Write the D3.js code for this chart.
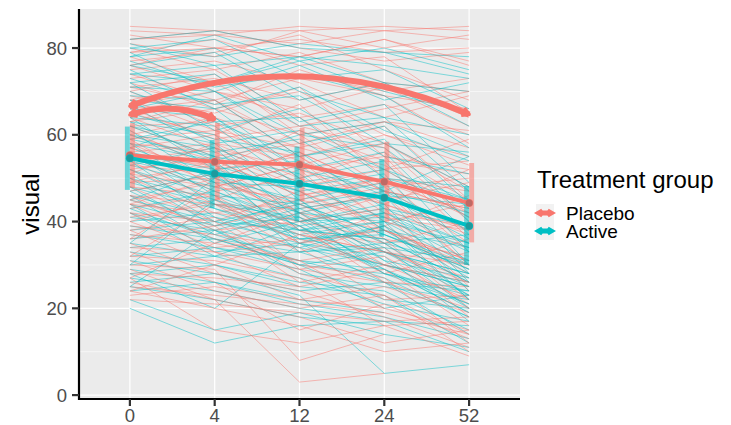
<html>
<head>
<script src="https://cdn.jsdelivr.net/npm/d3@7"></script>
<style>
  body { margin: 0; background: white; }
  text { font-family: "Liberation Sans", Arial, sans-serif; }
</style>
</head>
<body>
<div id="output"></div>
</body>
</html>

<script>
    var width = 731;
    var height = 425;

    var red = '#F8766D';
    var teal = '#00BFC4';

    // weeks (discrete axis)
    var weeks = ['0', '4', '12', '24', '52'];
    var groups = ['Placebo', 'Active'];

    // individual trajectories, values at weeks 0, 4, 12, 24, 52 (null = missing)
    var placeboSubjects = [
        [84,83,85,84,85], [83,80,78,82,76], [82,84,80,77,79], [80,75,79,72,70],
        [79,82,76,78,65], [78,72,74,70,73], [77,79,83,75,68], [76,70,66,71,62],
        [75,77,72,64,69], [74,68,73,69,58], [73,75,64,67,60], [72,66,70,60,55],
        [71,73,68,72,64], [70,62,65,58,48], [70,74,60,63,57], [69,65,71,55,52],
        [68,61,57,62,45], [67,70,64,52,59], [66,59,62,57,40], [66,68,55,60,53],
        [65,60,67,50,47], [64,57,52,55,36], [63,66,60,48,50], [62,55,58,53,42],
        [62,63,50,56,45], [61,52,55,44,38], [60,64,57,52,54], [60,54,46,50,33],
        [59,61,54,40,44], [58,50,56,47,30], [58,56,48,52,41], [57,60,52,45,49],
        [56,49,44,48,35], [56,58,55,42,39], [55,47,50,38,28], [55,53,42,47,43],
        [54,57,49,44,37], [54,45,52,36,32], [53,51,40,43,25], [52,55,47,39,46],
        [52,44,43,46,30], [51,48,53,40,34], [50,53,38,35,22], [50,42,45,41,38],
        [49,50,41,33,27], [48,40,47,38,31], [48,46,35,42,24], [47,51,42,30,36],
        [46,38,40,36,20], [46,44,33,39,29], [45,49,38,28,33], [44,36,31,34,18],
        [44,42,39,26,25], [43,46,29,32,21], [42,34,36,30,26], [42,40,28,23,14],
        [41,44,37,33,30], [40,33,25,29,16], [39,37,34,22,23], [38,41,30,27,12],
        [38,30,22,25,19], [37,35,31,20,15], [36,39,26,30,22], [35,28,24,18,11],
        [34,33,29,26,20], [33,26,15,21,13], [32,31,27,16,17], [31,24,20,23,10],
        [30,29,8,14,null], [29,22,18,12,15], [28,27,25,null,null], [27,15,12,16,9],
        [26,22,3,5,null], [25,23,21,19,14], [24,20,16,10,12], [23,25,22,20,null],
        [22,21,19,17,18], [81,78,84,80,83], [71,67,75,69,66], [63,68,58,63,61],
        [57,52,61,54,51], [49,54,46,49,42], [45,39,44,35,40], [40,45,35,38,31],
        [85,84,84,85,84], [82,83,81,84,82], [79,80,82,79,80], [76,80,78,82,77],
        [32,44,40,46,38], [27,35,42,38,30], [36,48,45,50,41], [24,30,37,33,26],
        [68,72,62,66,70], [59,48,53,58,47], [51,58,50,44,52], [44,50,56,47,43]
    ];

    var activeSubjects = [
        [82,84,80,79,74], [81,76,78,72,70], [80,82,73,75,66], [79,70,76,68,72],
        [78,80,70,64,60], [77,71,74,69,57], [76,79,68,72,62], [75,66,71,61,54],
        [74,76,63,67,49], [73,67,69,58,56], [72,74,62,64,47], [72,61,66,55,51],
        [71,70,58,62,44], [70,63,64,50,48], [69,68,55,59,40], [68,58,61,52,45],
        [68,66,52,56,37], [67,56,59,47,42], [66,64,50,54,33], [65,59,56,43,39],
        [64,62,48,51,30], [64,52,54,46,36], [63,60,45,49,28], [62,55,51,38,34],
        [62,58,43,46,26], [61,49,48,41,31], [60,57,40,44,24], [60,53,47,35,37],
        [59,55,42,40,22], [58,46,44,37,29], [58,54,38,42,33], [57,50,45,31,27],
        [56,52,35,39,28], [56,44,41,33,25], [55,51,36,37,30], [55,47,39,28,24],
        [54,49,33,35,23], [54,41,37,29,21], [53,48,42,34,31], [52,43,38,36,26],
        [52,46,39,42,35], [51,40,44,37,29], [50,45,40,41,34], [50,39,45,33,23],
        [49,44,37,40,30], [48,37,42,31,20], [48,43,36,38,27], [47,38,43,35,30],
        [46,41,34,39,22], [46,35,40,29,19], [45,40,38,36,26], [44,33,35,32,17],
        [44,39,41,28,23], [43,36,33,34,20], [42,32,39,30,25], [42,37,31,26,18],
        [41,38,34,30,26], [40,42,36,33,28], [39,36,30,28,21], [38,40,35,26,24],
        [37,34,31,29,19], [36,38,28,25,22], [35,32,33,27,18], [34,36,30,22,20],
        [33,30,26,24,15], [32,34,29,20,23], [31,28,24,26,14], [30,32,27,21,17],
        [29,26,22,19,null], [28,30,25,23,12], [27,24,20,17,16], [26,28,23,5,7],
        [25,22,18,16,null], [24,26,21,18,13], [22,15,19,14,11], [20,12,16,17,10],
        [76,72,77,70,65], [66,70,60,63,55], [59,63,55,58,48], [53,57,49,52,41],
        [47,51,44,47,38], [43,47,40,43,35], [80,78,81,79,78], [78,83,77,80,75],
        [74,72,78,76,73], [30,45,38,40,35], [25,38,30,33,28], [35,50,42,46,44],
        [28,20,35,30,25], [57,64,52,47,55], [63,54,60,57,43], [45,52,47,50,45]
    ];

    // group means and error bar limits per week
    var placeboMean = [55.3, 53.8, 53.1, 49.2, 44.3];
    var placeboLow  = [47.8, 44.9, 44.6, 40.0, 35.2];
    var placeboHigh = [62.7, 62.7, 61.6, 58.4, 53.5];
    var activeMean  = [54.6, 51.0, 48.7, 45.5, 39.0];
    var activeLow   = [47.3, 43.1, 40.0, 36.5, 30.0];
    var activeHigh  = [61.9, 58.8, 57.3, 54.4, 48.1];

    // annotation curves (double-headed arrows)
    var curveFrom  = [['0', 66.6], ['0', 64.6]];
    var curveTo    = [['52', 64.7], ['4', 63.6]];

    var yTicks = [0, 20, 40, 60, 80];
    var yMinor = [10, 30, 50, 70];

    var panel = {left: 79, right: 520, top: 9, bottom: 399};

    var x = d3.scalePoint().domain(weeks).range([panel.left, panel.right]).padding(0.6);
    var y = d3.scaleLinear().domain([-0.9, 89]).range([panel.bottom, panel.top]);

    var svg = d3.select('#output').append('svg')
        .attr('width', width)
        .attr('height', height);

    svg.append('rect')
        .attr('x', panel.left).attr('y', panel.top)
        .attr('width', panel.right - panel.left)
        .attr('height', panel.bottom - panel.top)
        .attr('fill', '#ebebeb');

    // grid
    svg.selectAll('.minor').data(yMinor).enter().append('line')
        .attr('x1', panel.left).attr('x2', panel.right)
        .attr('y1', d => y(d)).attr('y2', d => y(d))
        .attr('stroke', 'white').attr('stroke-width', 0.6);
    svg.selectAll('.hmajor').data(yTicks).enter().append('line')
        .attr('x1', panel.left).attr('x2', panel.right)
        .attr('y1', d => y(d)).attr('y2', d => y(d))
        .attr('stroke', 'white').attr('stroke-width', 1.2);
    svg.selectAll('.vmajor').data(weeks).enter().append('line')
        .attr('y1', panel.top).attr('y2', panel.bottom)
        .attr('x1', d => x(d)).attr('x2', d => x(d))
        .attr('stroke', 'white').attr('stroke-width', 1.2);

    var line = d3.line()
        .defined(d => d[1] != null)
        .x(d => x(d[0]))
        .y(d => y(d[1]));

    var toPoints = vals => vals.map((v, i) => [weeks[i], v]);

    // interleave the two groups so that colours are mixed
    var subjects = [];
    var na = activeSubjects.length;
    var n = Math.max(placeboSubjects.length, na);
    for (var i = 0; i < n; i++) {
        if (i < placeboSubjects.length) subjects.push({g: 0, v: placeboSubjects[i]});
        if (i < na) subjects.push({g: 1, v: activeSubjects[na - 1 - i]});
    }

    svg.append('g').selectAll('path').data(subjects).enter().append('path')
        .attr('d', d => line(toPoints(d.v)))
        .attr('fill', 'none')
        .attr('stroke', d => d.g == 0 ? red : teal)
        .attr('stroke-opacity', 0.48)
        .attr('stroke-width', 1);

    // error bars (dodged)
    var bars = [
        {color: red, dx: 2.5, lo: placeboLow, hi: placeboHigh},
        {color: teal, dx: -2.5, lo: activeLow, hi: activeHigh}
    ];
    bars.forEach(b => {
        svg.append('g').selectAll('line').data(weeks).enter().append('line')
            .attr('x1', d => x(d) + b.dx).attr('x2', d => x(d) + b.dx)
            .attr('y1', (d, i) => y(b.lo[i])).attr('y2', (d, i) => y(b.hi[i]))
            .attr('stroke', b.color)
            .attr('stroke-opacity', 0.55)
            .attr('stroke-width', 5);
    });

    // mean lines and points
    var means = [
        {color: red, v: placeboMean},
        {color: teal, v: activeMean}
    ];
    means.forEach(m => {
        svg.append('path')
            .attr('d', line(toPoints(m.v)))
            .attr('fill', 'none')
            .attr('stroke', m.color)
            .attr('stroke-width', 4);
    });
    means.forEach(m => {
        var g = svg.append('g');
        g.selectAll('circle.p').data(m.v).enter().append('circle')
            .attr('cx', (d, i) => x(weeks[i])).attr('cy', d => y(d))
            .attr('r', 4).attr('fill', m.color);
        g.selectAll('circle.s').data(m.v).enter().append('circle')
            .attr('cx', (d, i) => x(weeks[i])).attr('cy', d => y(d))
            .attr('r', 3.5).attr('fill', '#555').attr('fill-opacity', 0.35);
    });

    // arrowhead at tip, pointing along (dx, dy)
    var arrowHead = function(tip, dx, dy, len) {
        var a = Math.atan2(dy, dx);
        var s = Math.PI / 6;
        var p1 = [tip[0] - len * Math.cos(a - s), tip[1] - len * Math.sin(a - s)];
        var p2 = [tip[0] - len * Math.cos(a + s), tip[1] - len * Math.sin(a + s)];
        return 'M' + p1[0] + ' ' + p1[1] + ' L' + tip[0] + ' ' + tip[1] + ' L' + p2[0] + ' ' + p2[1];
    };

    curveFrom.forEach((f, i) => {
        var t = curveTo[i];
        var P0 = [x(f[0]), y(f[1])];
        var P2 = [x(t[0]), y(t[1])];
        var dx = P2[0] - P0[0], dy = P2[1] - P0[1];
        var len = Math.sqrt(dx * dx + dy * dy);
        var k = 0.2 * len;
        // perpendicular, bending upwards
        var C = [(P0[0] + P2[0]) / 2 + k * dy / len, (P0[1] + P2[1]) / 2 - k * dx / len];
        var path = 'M' + P0[0] + ' ' + P0[1] + ' Q' + C[0] + ' ' + C[1] + ' ' + P2[0] + ' ' + P2[1];
        svg.append('path').attr('d', path)
            .attr('fill', 'none').attr('stroke', red).attr('stroke-width', 6);
        [[P0, C], [P2, C]].forEach(e => {
            svg.append('path').attr('d', arrowHead(e[0], e[0][0] - e[1][0], e[0][1] - e[1][1], 8))
                .attr('fill', red).attr('stroke', red).attr('stroke-width', 3.5)
                .attr('stroke-linejoin', 'round');
        });
    });

    // axes
    svg.append('line')
        .attr('x1', panel.left).attr('x2', panel.left)
        .attr('y1', panel.top).attr('y2', panel.bottom + 1)
        .attr('stroke', 'black').attr('stroke-width', 2.2);
    svg.append('line')
        .attr('x1', panel.left - 1).attr('x2', panel.right)
        .attr('y1', panel.bottom).attr('y2', panel.bottom)
        .attr('stroke', 'black').attr('stroke-width', 2.2);

    svg.selectAll('.ytick').data(yTicks).enter().append('line')
        .attr('x1', panel.left - 7).attr('x2', panel.left)
        .attr('y1', d => y(d)).attr('y2', d => y(d))
        .attr('stroke', '#333').attr('stroke-width', 2.2);
    svg.selectAll('.ylab').data(yTicks).enter().append('text')
        .attr('x', panel.left - 12).attr('y', d => y(d))
        .attr('dy', '0.36em')
        .attr('text-anchor', 'end')
        .attr('font-size', 18.5)
        .attr('fill', '#4d4d4d')
        .text(d => d);

    svg.selectAll('.xtick').data(weeks).enter().append('line')
        .attr('x1', d => x(d)).attr('x2', d => x(d))
        .attr('y1', panel.bottom).attr('y2', panel.bottom + 7)
        .attr('stroke', '#333').attr('stroke-width', 2.2);
    svg.selectAll('.xlab').data(weeks).enter().append('text')
        .attr('x', d => x(d)).attr('y', 422)
        .attr('text-anchor', 'middle')
        .attr('font-size', 18.5)
        .attr('fill', '#4d4d4d')
        .text(d => d);

    svg.append('text')
        .attr('transform', 'translate(39,' + ((panel.top + panel.bottom) / 2) + ') rotate(-90)')
        .attr('text-anchor', 'middle')
        .attr('font-size', 24)
        .attr('fill', 'black')
        .text('visual');

    // legend
    var legend = svg.append('g');
    legend.append('text')
        .attr('x', 537).attr('y', 188)
        .attr('font-size', 24)
        .attr('fill', 'black')
        .text('Treatment group');

    var keyColors = [red, teal];
    groups.forEach((g, i) => {
        var ky = 204 + i * 18;
        legend.append('rect')
            .attr('x', 536).attr('y', ky)
            .attr('width', 18).attr('height', 18)
            .attr('fill', '#f2f2f2');
        var cy = ky + 9;
        legend.append('line')
            .attr('x1', 539).attr('x2', 551)
            .attr('y1', cy).attr('y2', cy)
            .attr('stroke', keyColors[i]).attr('stroke-width', 5);
        legend.append('path').attr('d', arrowHead([538, cy], -1, 0, 5))
            .attr('fill', keyColors[i]).attr('stroke', keyColors[i]).attr('stroke-width', 4);
        legend.append('path').attr('d', arrowHead([552, cy], 1, 0, 5))
            .attr('fill', keyColors[i]).attr('stroke', keyColors[i]).attr('stroke-width', 4);
        legend.append('text')
            .attr('x', 566).attr('y', cy + 7)
            .attr('font-size', 19)
            .attr('fill', 'black')
            .text(g);
    });
</script>
